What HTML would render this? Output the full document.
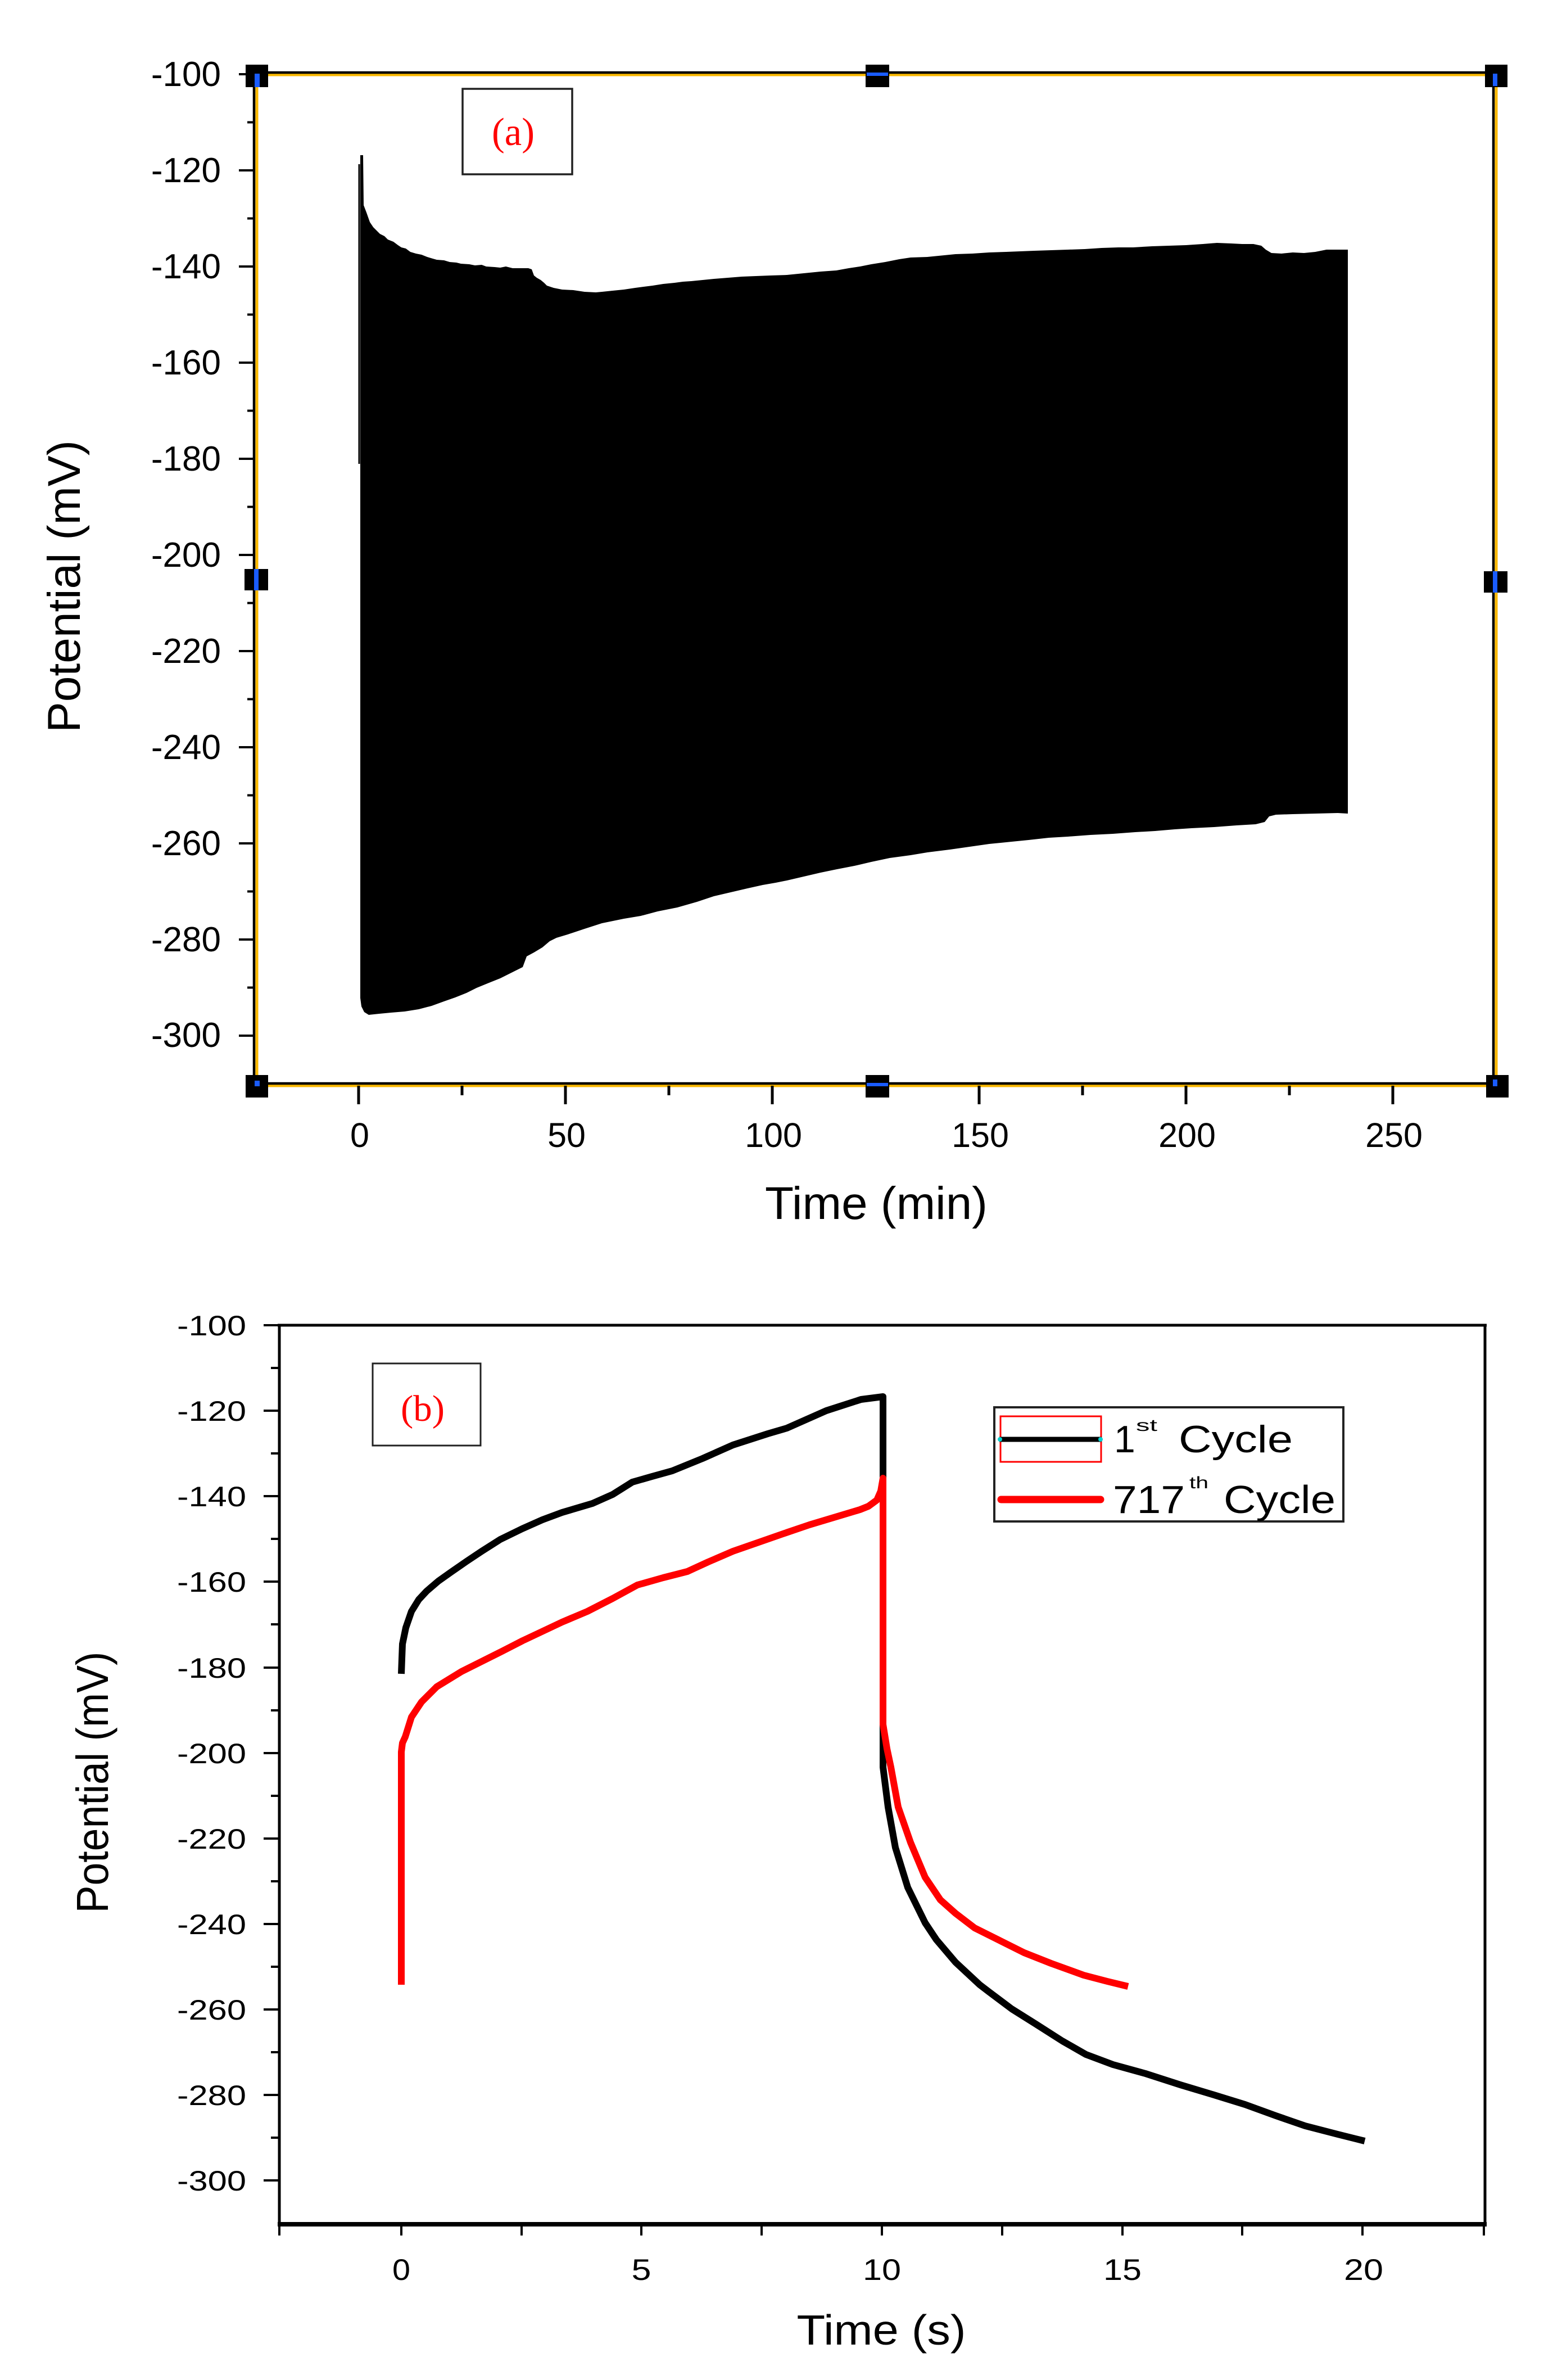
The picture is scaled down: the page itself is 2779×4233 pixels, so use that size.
<!DOCTYPE html>
<html>
<head>
<meta charset="utf-8">
<style>
html,body{margin:0;padding:0;background:#fff;}
svg{display:block;}
text{font-family:"Liberation Sans",Arial,sans-serif;fill:#000;}
.serif{font-family:"Liberation Serif","Times New Roman",serif;}
</style>
</head>
<body>
<svg width="2779" height="4233" viewBox="0 0 2779 4233" xmlns="http://www.w3.org/2000/svg">
<rect x="0" y="0" width="2779" height="4233" fill="#fff"/>

<!-- ================= PANEL (a) ================= -->
<path fill="#000" d="M641,276 L646,276 647,365 652,378 658,395 664,404 670,410 676,416 684,420 690,426 700,430 708,436 714,440 722,442 730,448 740,451 750,453 760,457 770,460 777,462 790,463 800,466 812,467 820,469 835,470 845,472 857,471 865,474 880,475 890,476 900,474 912,477 929,477 940,477 946,479 950,490 955,494 962,498 968,503 973,508 985,512 1000,515 1020,516 1040,519 1060,520 1071,519 1090,517 1110,515 1130,512 1145,510 1161,508 1180,505 1200,503 1215,501 1230,500 1250,498 1270,496 1295,494 1320,492 1345,491 1370,490 1400,489 1430,486 1460,483 1488,481 1510,477 1530,474 1550,470 1575,466 1600,461 1620,458 1650,457 1680,454 1700,452 1730,451 1760,449 1790,448 1815,447 1840,446 1870,445 1900,444 1930,443 1960,441 1990,440 2016,440 2050,438 2080,437 2110,436 2140,434 2165,432 2190,433 2210,434 2230,434 2244,437 2252,444 2262,450 2280,451 2300,449 2320,450 2340,448 2360,444 2380,444 2398,444 L2398,1447 2380,1446 2340,1447 2300,1448 2270,1449 2258,1452 2250,1462 2234,1466 2200,1468 2160,1471 2120,1473 2090,1475 2055,1478 2020,1480 1980,1483 1940,1485 1900,1488 1866,1490 1830,1494 1800,1497 1760,1501 1725,1506 1690,1511 1650,1516 1620,1521 1583,1526 1550,1533 1520,1540 1489,1546 1460,1552 1430,1559 1400,1566 1380,1570 1357,1574 1330,1580 1300,1587 1270,1594 1240,1604 1205,1614 1170,1621 1140,1629 1110,1634 1071,1642 1040,1652 1010,1662 990,1668 978,1674 965,1685 950,1694 937,1701 930,1720 910,1730 890,1740 870,1748 848,1757 830,1766 810,1774 790,1781 768,1789 745,1795 720,1799 696,1801 675,1803 656,1805 648,1800 643,1790 641,1775 Z"/>
<line x1="639" y1="292" x2="639" y2="825" stroke="#000" stroke-width="3"/>

<rect x="457" y="133" width="2205" height="1798" fill="none" stroke="#f9b800" stroke-width="5"/>
<rect x="452" y="129" width="2205" height="1798" fill="none" stroke="#000" stroke-width="4.5"/>

<g stroke="#000" stroke-width="4">
<line x1="425" y1="132" x2="452" y2="132"/>
<line x1="440" y1="217.5" x2="452" y2="217.5"/>
<line x1="425" y1="303" x2="452" y2="303"/>
<line x1="440" y1="388.5" x2="452" y2="388.5"/>
<line x1="425" y1="474" x2="452" y2="474"/>
<line x1="440" y1="559.5" x2="452" y2="559.5"/>
<line x1="425" y1="645" x2="452" y2="645"/>
<line x1="440" y1="730.5" x2="452" y2="730.5"/>
<line x1="425" y1="816" x2="452" y2="816"/>
<line x1="440" y1="901.5" x2="452" y2="901.5"/>
<line x1="425" y1="987" x2="452" y2="987"/>
<line x1="440" y1="1072.5" x2="452" y2="1072.5"/>
<line x1="425" y1="1158" x2="452" y2="1158"/>
<line x1="440" y1="1243.5" x2="452" y2="1243.5"/>
<line x1="425" y1="1329" x2="452" y2="1329"/>
<line x1="440" y1="1414.5" x2="452" y2="1414.5"/>
<line x1="425" y1="1500" x2="452" y2="1500"/>
<line x1="440" y1="1585.5" x2="452" y2="1585.5"/>
<line x1="425" y1="1671" x2="452" y2="1671"/>
<line x1="440" y1="1756.5" x2="452" y2="1756.5"/>
<line x1="425" y1="1842" x2="452" y2="1842"/>
</g>
<g font-size="62" text-anchor="end">
<text x="393" y="153">-100</text>
<text x="393" y="324">-120</text>
<text x="393" y="495">-140</text>
<text x="393" y="666">-160</text>
<text x="393" y="837">-180</text>
<text x="393" y="1008">-200</text>
<text x="393" y="1179">-220</text>
<text x="393" y="1350">-240</text>
<text x="393" y="1521">-260</text>
<text x="393" y="1692">-280</text>
<text x="393" y="1862">-300</text>
</g>

<g stroke="#000" stroke-width="5">
<line x1="638" y1="1931" x2="638" y2="1964"/>
<line x1="822" y1="1931" x2="822" y2="1948"/>
<line x1="1006" y1="1931" x2="1006" y2="1964"/>
<line x1="1190" y1="1931" x2="1190" y2="1948"/>
<line x1="1374" y1="1931" x2="1374" y2="1964"/>
<line x1="1742" y1="1931" x2="1742" y2="1964"/>
<line x1="1926" y1="1931" x2="1926" y2="1948"/>
<line x1="2110" y1="1931" x2="2110" y2="1964"/>
<line x1="2294" y1="1931" x2="2294" y2="1948"/>
<line x1="2478" y1="1931" x2="2478" y2="1964"/>
</g>
<g font-size="61" text-anchor="middle">
<text x="640" y="2040">0</text>
<text x="1008" y="2040">50</text>
<text x="1376" y="2040">100</text>
<text x="1744" y="2040">150</text>
<text x="2112" y="2040">200</text>
<text x="2480" y="2040">250</text>
</g>
<text x="1559" y="2168" font-size="82" text-anchor="middle" textLength="396" lengthAdjust="spacingAndGlyphs">Time (min)</text>
<text transform="translate(142,1043) rotate(-90)" font-size="82" text-anchor="middle" textLength="520" lengthAdjust="spacingAndGlyphs">Potential (mV)</text>

<rect x="823" y="158" width="195" height="152" fill="none" stroke="#222" stroke-width="3.5"/>
<text class="serif" x="913" y="258" font-size="70" text-anchor="middle" style="fill:#ff0000" textLength="76" lengthAdjust="spacingAndGlyphs">(a)</text>

<g>
<rect x="437" y="115" width="40" height="40" fill="#000"/><rect x="453" y="131" width="9" height="24" fill="#1a5cff"/>
<rect x="1540" y="115" width="42" height="40" fill="#000"/><rect x="1542" y="129" width="38" height="6" fill="#1a5cff"/>
<rect x="2642" y="115" width="40" height="40" fill="#000"/><rect x="2656" y="131" width="8" height="22" fill="#1a5cff"/>
<rect x="435" y="1012" width="42" height="38" fill="#000"/><rect x="452" y="1012" width="8" height="38" fill="#1a5cff"/>
<rect x="2640" y="1016" width="42" height="38" fill="#000"/><rect x="2656" y="1016" width="8" height="38" fill="#1a5cff"/>
<rect x="437" y="1912" width="40" height="40" fill="#000"/><rect x="453" y="1922" width="9" height="10" fill="#1a5cff"/>
<rect x="1540" y="1912" width="42" height="40" fill="#000"/><rect x="1542" y="1926" width="38" height="6" fill="#1a5cff"/>
<rect x="2644" y="1912" width="40" height="40" fill="#000"/><rect x="2656" y="1920" width="8" height="12" fill="#1a5cff"/>
</g>

<!-- ================= PANEL (b) ================= -->
<line x1="494" y1="2357" x2="2645" y2="2357" stroke="#000" stroke-width="5"/>
<line x1="497" y1="2355" x2="497" y2="3960" stroke="#000" stroke-width="5"/>
<line x1="2642" y1="2355" x2="2642" y2="3960" stroke="#000" stroke-width="5"/>
<line x1="494" y1="3956" x2="2645" y2="3956" stroke="#000" stroke-width="8"/>

<g stroke="#000" stroke-width="4">
<line x1="469" y1="2357" x2="497" y2="2357"/>
<line x1="482" y1="2433" x2="497" y2="2433"/>
<line x1="469" y1="2509" x2="497" y2="2509"/>
<line x1="482" y1="2585" x2="497" y2="2585"/>
<line x1="469" y1="2661" x2="497" y2="2661"/>
<line x1="482" y1="2737" x2="497" y2="2737"/>
<line x1="469" y1="2813" x2="497" y2="2813"/>
<line x1="482" y1="2889" x2="497" y2="2889"/>
<line x1="469" y1="2966" x2="497" y2="2966"/>
<line x1="482" y1="3042" x2="497" y2="3042"/>
<line x1="469" y1="3118" x2="497" y2="3118"/>
<line x1="482" y1="3194" x2="497" y2="3194"/>
<line x1="469" y1="3270" x2="497" y2="3270"/>
<line x1="482" y1="3346" x2="497" y2="3346"/>
<line x1="469" y1="3422" x2="497" y2="3422"/>
<line x1="482" y1="3498" x2="497" y2="3498"/>
<line x1="469" y1="3574" x2="497" y2="3574"/>
<line x1="482" y1="3650" x2="497" y2="3650"/>
<line x1="469" y1="3726" x2="497" y2="3726"/>
<line x1="482" y1="3802" x2="497" y2="3802"/>
<line x1="469" y1="3878" x2="497" y2="3878"/>
</g>
<g font-size="50" text-anchor="end">
<text x="438" y="2375" textLength="123" lengthAdjust="spacingAndGlyphs">-100</text>
<text x="438" y="2527" textLength="123" lengthAdjust="spacingAndGlyphs">-120</text>
<text x="438" y="2679" textLength="123" lengthAdjust="spacingAndGlyphs">-140</text>
<text x="438" y="2831" textLength="123" lengthAdjust="spacingAndGlyphs">-160</text>
<text x="438" y="2984" textLength="123" lengthAdjust="spacingAndGlyphs">-180</text>
<text x="438" y="3136" textLength="123" lengthAdjust="spacingAndGlyphs">-200</text>
<text x="438" y="3288" textLength="123" lengthAdjust="spacingAndGlyphs">-220</text>
<text x="438" y="3440" textLength="123" lengthAdjust="spacingAndGlyphs">-240</text>
<text x="438" y="3592" textLength="123" lengthAdjust="spacingAndGlyphs">-260</text>
<text x="438" y="3744" textLength="123" lengthAdjust="spacingAndGlyphs">-280</text>
<text x="438" y="3896" textLength="123" lengthAdjust="spacingAndGlyphs">-300</text>
</g>

<g stroke="#000" stroke-width="4">
<line x1="497" y1="3956" x2="497" y2="3976"/>
<line x1="714" y1="3956" x2="714" y2="3976"/>
<line x1="928" y1="3956" x2="928" y2="3976"/>
<line x1="1141" y1="3956" x2="1141" y2="3976"/>
<line x1="1355" y1="3956" x2="1355" y2="3976"/>
<line x1="1569" y1="3956" x2="1569" y2="3976"/>
<line x1="1783" y1="3956" x2="1783" y2="3976"/>
<line x1="1997" y1="3956" x2="1997" y2="3976"/>
<line x1="2210" y1="3956" x2="2210" y2="3976"/>
<line x1="2424" y1="3956" x2="2424" y2="3976"/>
<line x1="2640" y1="3956" x2="2640" y2="3976"/>
</g>
<g font-size="53" text-anchor="middle">
<text x="714" y="4055" textLength="32" lengthAdjust="spacingAndGlyphs">0</text>
<text x="1141" y="4055" textLength="35" lengthAdjust="spacingAndGlyphs">5</text>
<text x="1569" y="4055" textLength="68" lengthAdjust="spacingAndGlyphs">10</text>
<text x="1997" y="4055" textLength="68" lengthAdjust="spacingAndGlyphs">15</text>
<text x="2426" y="4055" textLength="70" lengthAdjust="spacingAndGlyphs">20</text>
</g>
<text x="1568" y="4170" font-size="75" text-anchor="middle" textLength="301" lengthAdjust="spacingAndGlyphs">Time (s)</text>
<text transform="translate(192,3170) rotate(-90)" font-size="80" text-anchor="middle" textLength="465" lengthAdjust="spacingAndGlyphs">Potential (mV)</text>

<rect x="663" y="2425" width="192" height="146" fill="none" stroke="#222" stroke-width="3"/>
<text class="serif" x="752" y="2527" font-size="66" text-anchor="middle" style="fill:#ff0000" textLength="78" lengthAdjust="spacingAndGlyphs">(b)</text>

<polyline fill="none" stroke="#000" stroke-width="12" stroke-linejoin="round" stroke-linecap="butt"
points="714,2977 715,2950 716,2924 722,2895 732,2866 745,2845 759,2830 780,2812 804,2795 830,2777 857,2759 890,2738 929,2719 965,2703 1000,2690 1054,2674 1090,2658 1125,2636 1160,2626 1196,2616 1250,2594 1304,2570 1366,2550 1400,2540 1470,2509 1532,2489 1571,2484 1571,3143 1580,3214 1593,3286 1615,3357 1646,3420 1666,3450 1700,3490 1743,3530 1760,3543 1800,3573 1843,3600 1890,3630 1932,3654 1980,3672 2038,3688 2100,3708 2160,3726 2215,3743 2270,3763 2322,3781 2380,3796 2428,3808"/>

<polyline fill="none" stroke="#ff0000" stroke-width="12" stroke-linejoin="round" stroke-linecap="butt"
points="714,3530 714,3116 716,3100 721,3089 732,3054 750,3027 777,3000 821,2973 857,2955 893,2937 930,2918 964,2902 1000,2885 1045,2866 1090,2843 1134,2819 1180,2806 1223,2795 1260,2778 1304,2759 1350,2743 1393,2728 1440,2712 1480,2700 1530,2685 1545,2679 1560,2668 1567,2652 1571,2629 1571,3067 1578,3110 1585,3143 1598,3214 1620,3277 1646,3339 1673,3379 1700,3403 1734,3429 1780,3452 1822,3473 1870,3492 1928,3513 1970,3524 2007,3533"/>

<rect x="1769" y="2503" width="621" height="203" fill="#fff" stroke="#222" stroke-width="4"/>
<rect x="1780" y="2519" width="179" height="81" fill="none" stroke="#ff0000" stroke-width="3"/>
<line x1="1778" y1="2560" x2="1960" y2="2560" stroke="#000" stroke-width="9"/>
<circle cx="1779" cy="2560" r="4" fill="#00d0d0"/>
<circle cx="1958" cy="2560" r="4" fill="#00d0d0"/>
<line x1="1781" y1="2667" x2="1958" y2="2667" stroke="#ff0000" stroke-width="13" stroke-linecap="round"/>
<text x="1982" y="2583" font-size="68">1</text>
<text x="2021" y="2545" font-size="30" textLength="38" lengthAdjust="spacingAndGlyphs">st</text>
<text x="2097" y="2583" font-size="68" textLength="203" lengthAdjust="spacingAndGlyphs">Cycle</text>
<text x="1980" y="2691" font-size="70" textLength="128" lengthAdjust="spacingAndGlyphs">717</text>
<text x="2116" y="2647" font-size="30" textLength="34" lengthAdjust="spacingAndGlyphs">th</text>
<text x="2177" y="2691" font-size="70" textLength="199" lengthAdjust="spacingAndGlyphs">Cycle</text>
</svg>
</body>
</html>
